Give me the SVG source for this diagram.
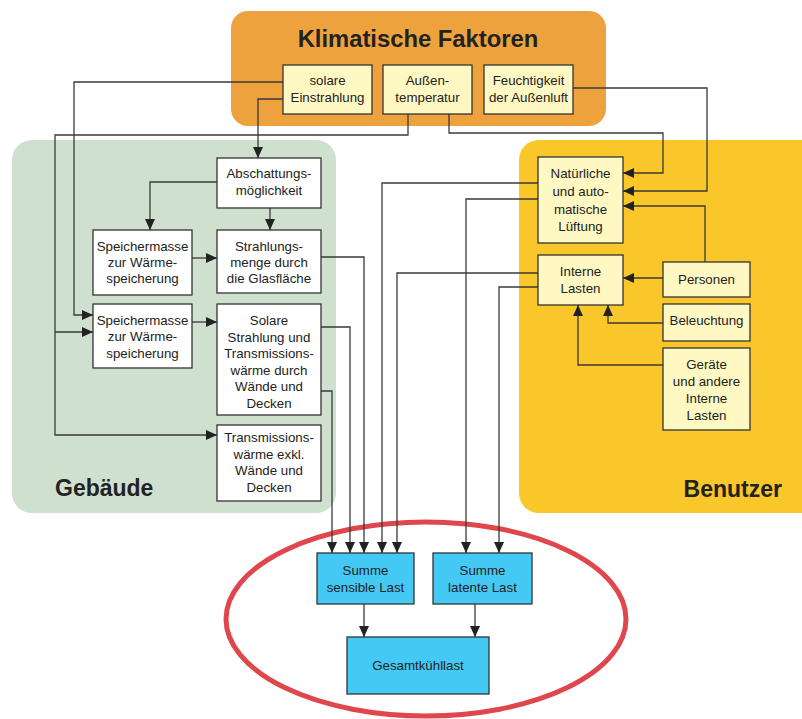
<svg xmlns="http://www.w3.org/2000/svg" width="802" height="719" viewBox="0 0 802 719">
<defs>
<marker id="ah" markerUnits="userSpaceOnUse" markerWidth="11" markerHeight="10" refX="11" refY="5" orient="auto">
<path d="M0,0 L11,5 L0,10 z" fill="#222"/>
</marker>
<style>
.t{font-family:"Liberation Sans",Arial,sans-serif;font-size:13.3px;fill:#222;text-anchor:middle}
.h{font-family:"Liberation Sans",Arial,sans-serif;font-size:23.8px;font-weight:bold;fill:#222}
.bw{fill:#fff;stroke:#333;stroke-width:1.3}
.by{fill:#fff8c2;stroke:#333;stroke-width:1.3}
.bc{fill:#44c8f4;stroke:#333;stroke-width:1.3}
.c{fill:none;stroke:#3a3a3a;stroke-width:1.3}
.a{marker-end:url(#ah)}
</style>
</defs>
<rect width="802" height="719" fill="#fff"/>
<g id="panels">
<rect x="231" y="11" width="375" height="115" rx="17" fill="#eea23d"/>
<rect x="12" y="140" width="324" height="373" rx="20" fill="#cfe0cf"/>
<rect x="519" y="140" width="320" height="373" rx="20" fill="#f9c72a"/>
<text class="h" x="418" y="47" text-anchor="middle">Klimatische Faktoren</text>
<text class="h" x="55" y="496" font-size="23px" style="font-size:23px">Gebäude</text>
<text class="h" x="782" y="497" text-anchor="end" style="font-size:23px">Benutzer</text>
</g>
<ellipse id="focus" cx="426" cy="619" rx="200" ry="97" fill="none" stroke="#e0474c" stroke-width="5"/>
<g id="connectors">
<path class="c a" d="M283,82 H74 V315 H93"/>
<path class="c a" d="M283,99 H258 V158"/>
<path class="c a" d="M408,114 V135 H55 V435 H217"/>
<path class="c a" d="M55,332 H93"/>
<path class="c a" d="M449,114 V133 H663 V173 H623"/>
<path class="c a" d="M573,88 H707 V191 H623"/>
<path class="c a" d="M705,262 V206 H623"/>
<path class="c a" d="M663,278 H623"/>
<path class="c a" d="M663,323 H608 V305"/>
<path class="c a" d="M663,365 H578 V305"/>
<path class="c a" d="M217,182 H150 V230"/>
<path class="c a" d="M270,208 V230"/>
<path class="c a" d="M192,258 H217"/>
<path class="c a" d="M192,322 H217"/>
<path class="c a" d="M321,257 H364 V553"/>
<path class="c a" d="M321,327 H350 V553"/>
<path class="c a" d="M321,391 H332 V553"/>
<path class="c a" d="M538,183 H382 V553"/>
<path class="c a" d="M538,273 H397 V553"/>
<path class="c a" d="M538,199 H466 V553"/>
<path class="c a" d="M538,287 H499 V553"/>
<path class="c a" d="M364,604 V637"/>
<path class="c a" d="M475,604 V637"/>
</g>
<g id="solar"><rect class="by" x="283" y="65" width="89" height="49"/><text class="t" x="327.5" y="85">solare</text><text class="t" x="327.5" y="102">Einstrahlung</text></g>
<g id="aussentemp"><rect class="by" x="383" y="65" width="89" height="49"/><text class="t" x="427.5" y="85">Außen-</text><text class="t" x="427.5" y="102">temperatur</text></g>
<g id="feuchte"><rect class="by" x="484" y="65" width="89" height="49"/><text class="t" x="528.5" y="85">Feuchtigkeit</text><text class="t" x="528.5" y="102">der Außenluft</text></g>
<g id="abschattung"><rect class="bw" x="217" y="158" width="104" height="50"/><text class="t" x="269" y="178">Abschattungs-</text><text class="t" x="269" y="195">möglichkeit</text></g>
<g id="speicher1"><rect class="bw" x="93" y="230" width="99" height="65"/><text class="t" x="142.5" y="251">Speichermasse</text><text class="t" x="142.5" y="267">zur Wärme-</text><text class="t" x="142.5" y="283">speicherung</text></g>
<g id="strahlungsmenge"><rect class="bw" x="217" y="230" width="104" height="63"/><text class="t" x="269" y="251">Strahlungs-</text><text class="t" x="269" y="267">menge durch</text><text class="t" x="269" y="283">die Glasfläche</text></g>
<g id="speicher2"><rect class="bw" x="93" y="304" width="99" height="64"/><text class="t" x="142.5" y="325">Speichermasse</text><text class="t" x="142.5" y="341">zur Wärme-</text><text class="t" x="142.5" y="358">speicherung</text></g>
<g id="solare"><rect class="bw" x="217" y="304" width="104" height="111"/><text class="t" x="269" y="325">Solare</text><text class="t" x="269" y="341.5">Strahlung und</text><text class="t" x="269" y="358">Transmissions-</text><text class="t" x="269" y="374.5">wärme durch</text><text class="t" x="269" y="391">Wände und</text><text class="t" x="269" y="407.5">Decken</text></g>
<g id="transmission"><rect class="bw" x="217" y="425" width="104" height="76"/><text class="t" x="269" y="442">Transmissions-</text><text class="t" x="269" y="458.5">wärme exkl.</text><text class="t" x="269" y="475">Wände und</text><text class="t" x="269" y="491.5">Decken</text></g>
<g id="lueftung"><rect class="by" x="538" y="157" width="85" height="86"/><text class="t" x="580.5" y="178">Natürliche</text><text class="t" x="580.5" y="196">und auto-</text><text class="t" x="580.5" y="214">matische</text><text class="t" x="580.5" y="231">Lüftung</text></g>
<g id="interne"><rect class="by" x="538" y="255" width="85" height="50"/><text class="t" x="580.5" y="276">Interne</text><text class="t" x="580.5" y="293">Lasten</text></g>
<g id="personen"><rect class="by" x="663" y="262" width="87" height="35"/><text class="t" x="706.5" y="284">Personen</text></g>
<g id="beleuchtung"><rect class="by" x="663" y="304" width="87" height="37"/><text class="t" x="706.5" y="325">Beleuchtung</text></g>
<g id="geraete"><rect class="by" x="663" y="348" width="87" height="82"/><text class="t" x="706.5" y="369">Geräte</text><text class="t" x="706.5" y="386">und andere</text><text class="t" x="706.5" y="403">Interne</text><text class="t" x="706.5" y="420">Lasten</text></g>
<g id="sensibel"><rect class="bc" x="317" y="553" width="97" height="51"/><text class="t" x="365.5" y="575">Summe</text><text class="t" x="365.5" y="592">sensible Last</text></g>
<g id="latent"><rect class="bc" x="433" y="553" width="99" height="51"/><text class="t" x="482.5" y="575">Summe</text><text class="t" x="482.5" y="592">latente Last</text></g>
<g id="gesamt"><rect class="bc" x="347" y="637" width="142" height="57"/><text class="t" x="418" y="670">Gesamtkühllast</text></g>
</svg>
